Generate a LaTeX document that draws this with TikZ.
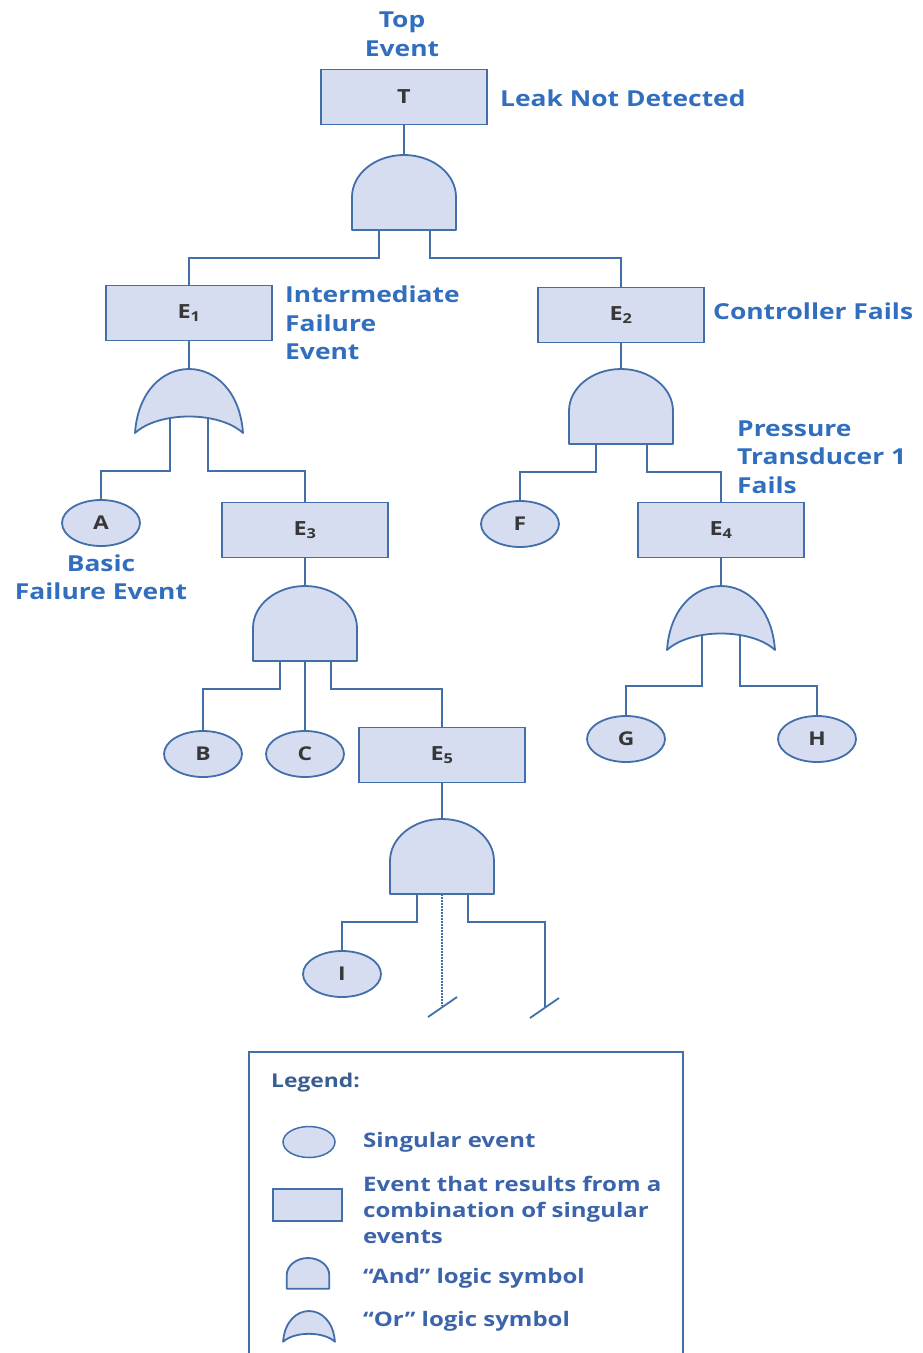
\documentclass[tikz,border=0pt]{standalone}
\usepackage{fontspec}
\setmainfont{Open Sans}[FakeStretch=1.2]
\newfontfamily\semib{Open Sans}[FakeStretch=1.2]
\usetikzlibrary{shapes.geometric,backgrounds,calc}
\definecolor{gfill}{RGB}{214,221,240}
\definecolor{gline}{RGB}{66,110,170}
\definecolor{gtext}{RGB}{50,110,190}
\definecolor{gleg}{RGB}{60,100,170}
\definecolor{gdark}{RGB}{55,55,55}
\tikzset{
  evbox/.style={draw=gline, fill=gfill, line width=1.8pt, minimum width=166pt, minimum height=55pt, inner sep=0pt, font=\semib\bfseries\fontsize{19.5}{22}\selectfont, text=gdark},
  evell/.style={ellipse, draw=gline, fill=gfill, line width=1.8pt, minimum width=78pt, minimum height=46pt, inner sep=0pt, font=\semib\bfseries\fontsize{19}{22}\selectfont, text=gdark},
  lbl/.style={text=gtext, font=\semib\bfseries\fontsize{22}{28.5}\selectfont, align=left, inner sep=0pt},
  legtxt/.style={text=gleg, font=\semib\bfseries\fontsize{20}{26}\selectfont, align=left, inner sep=0pt, anchor=west},
  conn/.style={draw=gline, line width=1.8pt},
  dotconn/.style={draw=gline, line width=1.6pt, dash pattern=on 1.6pt off 1.4pt},
  gateshape/.style={draw=gline, fill=gfill, line width=1.8pt, line join=round},
  andgate/.pic={
    \path[gateshape] (-52,75) -- (-52,42) .. controls (-52,18.8) and (-28.7,0) .. (0,0)
      .. controls (28.7,0) and (52,18.8) .. (52,42) -- (52,75) -- cycle;
    \coordinate (-in) at (0,0);
    \coordinate (-o1) at (-25,75);
    \coordinate (-o2) at (0,75);
    \coordinate (-o3) at (26,75);
  },
  orgate/.pic={
    \path[gateshape] (-54,64) .. controls (-51,22) and (-26,0) .. (0,0)
      .. controls (26,0) and (51,22) .. (54,64)
      .. controls (30,42) and (-30,42) .. cycle;
    \coordinate (-in) at (0,0);
    \coordinate (-o1) at (-19,50);
    \coordinate (-o2) at (19,50);
  },
}
\begin{document}
\begin{tikzpicture}[x=1pt,y=-1pt]
\useasboundingbox (0,0) rectangle (923,1353);

% event boxes
\node[evbox] (T)  at (404,97)  {T};
\node[evbox] (E1) at (189,313) {E\textsubscript{1}};
\node[evbox] (E2) at (621,315) {E\textsubscript{2}};
\node[evbox] (E3) at (305,530) {E\textsubscript{3}};
\node[evbox] (E4) at (721,530) {E\textsubscript{4}};
\node[evbox] (E5) at (442,755) {E\textsubscript{5}};

% basic events
\node[evell] (A) at (101,523) {A};
\node[evell] (B) at (203,754) {B};
\node[evell] (C) at (305,754) {C};
\node[evell] (F) at (520,524) {F};
\node[evell] (G) at (626,739) {G};
\node[evell] (H) at (817,739) {H};
\node[evell] (I) at (342,974) {I};

% gates
\pic (g1)  at (404,155) {andgate};
\pic (or1) at (189,369) {orgate};
\pic (g4)  at (621,369) {andgate};
\pic (g2)  at (305,586) {andgate};
\pic (or2) at (721,586) {orgate};
\pic (g3)  at (442,819) {andgate};

% free ends
\coordinate (d1) at (442,1006);
\coordinate (d2) at (545,1008);
\coordinate (s1a) at (428,1017);
\coordinate (s1b) at (457,997);
\coordinate (s2a) at (530,1018);
\coordinate (s2b) at (559,998);

\begin{pgfonlayer}{background}
\draw[conn] (T.south) -- (g1-in);
\draw[conn] (g1-o1) -- ++(0,28) -| (E1.north);
\draw[conn] (g1-o3) -- ++(0,28) -| (E2.north);
\draw[conn] (E1.south) -- (or1-in);
\draw[conn] (or1-o1) -- ++(0,52) -| (A.north);
\draw[conn] (or1-o2) -- ++(0,52) -| (E3.north);
\draw[conn] (E2.south) -- (g4-in);
\draw[conn] (g4-o1) -- ++(0,28) -| (F.north);
\draw[conn] (g4-o3) -- ++(0,28) -| (E4.north);
\draw[conn] (E3.south) -- (g2-in);
\draw[conn] (g2-o1) -- ++(0,28) -| (B.north);
\draw[conn] (g2-o2) -- (C.north);
\draw[conn] (g2-o3) -- ++(0,28) -| (E5.north);
\draw[conn] (E4.south) -- (or2-in);
\draw[conn] (or2-o1) -- ++(0,50) -| (G.north);
\draw[conn] (or2-o2) -- ++(0,50) -| (H.north);
\draw[conn] (E5.south) -- (g3-in);
\draw[conn] (g3-o1) -- ++(0,28) -| (I.north);
\draw[dotconn] (g3-o2) -- (d1);
\draw[conn] (g3-o3) -- ++(0,28) -| (d2);
\end{pgfonlayer}
\draw[conn] (s1a) -- (s1b);
\draw[conn] (s2a) -- (s2b);

% labels
\node[lbl, align=center] (ltop) at (402,34) {Top\\Event};
\node[lbl, anchor=west] (lleak) at (500,98) {Leak Not Detected};
\node[lbl, anchor=west] (linter) at (285,323) {Intermediate\\Failure\\Event};
\node[lbl, anchor=west] (lctrl) at (713,311) {Controller Fails};
\node[lbl, anchor=west] (lpress) at (737,457) {Pressure\\Transducer 1\\Fails};
\node[lbl, align=center] (lbasic) at (101,577) {Basic\\Failure Event};

% legend
\draw[line width=1.5pt, draw=gline] (249,1353) -- (249,1052) -- (683,1052) -- (683,1353);
\node[anchor=west, inner sep=0pt, text=gline!85!black, font=\semib\bfseries\fontsize{19}{20}\selectfont] (leg) at (271,1083) {Legend:};
\node[evell, minimum width=52pt, minimum height=31pt, line width=1.5pt] (legE) at (309,1142) {};
\node[evbox, minimum width=69pt, minimum height=32pt, line width=1.5pt] (legR) at (307.5,1205) {};
\pic[scale=0.41] (legA) at (308,1258) {andgate};
\pic[scale=0.48] (legO) at (309,1311) {orgate};
\node[legtxt] (t1) at (363,1142) {Singular event};
\node[legtxt] (t2) at (363,1210) {Event that results from a\\combination of singular\\events};
\node[legtxt] (t3) at (363,1278) {“And” logic symbol};
\node[legtxt] (t4) at (363,1321) {“Or” logic symbol};
\end{tikzpicture}
\end{document}
